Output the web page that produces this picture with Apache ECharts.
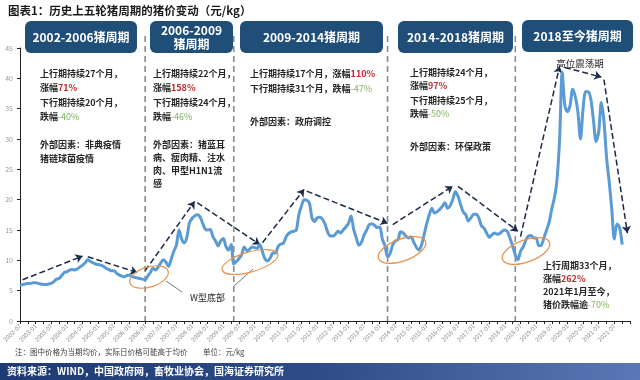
<!DOCTYPE html>
<html><head><meta charset="utf-8">
<script src="https://cdn.jsdelivr.net/npm/echarts@6/dist/echarts.min.js"></script>
<style>html,body{margin:0;padding:0;background:#fff}#c{width:640px;height:380px}</style>
</head><body><div id="c"></div>
<script>
// Monthly categories 2002-07 .. 2022-01
const categories = [];
for (let y = 2002; y <= 2022; y++) {
  for (let m = 1; m <= 12; m++) {
    if ((y === 2002 && m < 7) || (y === 2022 && m > 1)) continue;
    categories.push(y + '-' + String(m).padStart(2, '0'));
  }
}
const price = [
  5.9,6.0,6.1,6.2,6.2,6.3,6.3,6.2,6.1,6.0,6.0,6.1,6.2,6.5,6.9,7.0,7.5,8.0,8.1,8.4,
  8.5,8.4,8.6,8.9,9.2,9.6,10.1,9.8,9.6,9.4,9.3,9.2,9.0,8.7,8.5,8.3,8.3,7.9,7.6,7.4,
  7.3,7.5,7.6,7.3,7.2,7.1,7.0,6.9,6.8,7.4,8.0,8.7,8.4,8.9,9.6,10.1,9.7,9.0,10.2,11.5,
  12.5,15.0,13.5,12.9,13.8,16.2,16.9,17.3,17.5,17.2,16.2,15.2,15.0,15.1,13.9,13.2,12.4,13.2,13.6,12.3,
  11.7,12.6,9.4,9.8,10.3,10.9,12.2,11.6,11.8,12.2,12.1,12.0,12.6,11.4,10.2,9.9,10.4,11.2,11.2,12.3,
  12.7,12.8,13.8,14.4,14.7,14.8,15.0,17.6,19.0,20.0,19.9,19.5,17.0,16.4,17.0,17.1,16.8,16.0,14.7,14.0,
  14.0,14.3,14.8,14.5,15.0,15.5,16.1,17.3,15.1,13.7,12.5,13.0,14.2,15.0,15.9,16.0,15.8,15.4,15.5,13.5,
  12.4,10.6,11.2,12.6,13.2,13.4,14.7,14.5,14.0,13.7,13.9,13.0,12.2,11.7,12.5,14.2,16.0,17.5,18.6,17.8,
  18.0,18.4,18.9,19.5,18.6,19.0,20.0,21.3,20.6,19.2,18.0,17.5,16.5,17.0,17.6,17.6,17.0,15.7,15.3,14.5,
  13.8,14.2,14.5,14.3,14.4,14.8,15.0,14.7,13.6,12.3,10.9,10.1,11.5,12.2,13.3,14.0,14.1,13.7,13.7,12.4,
  12.5,13.7,15.0,16.3,18.5,20.3,23.3,30.0,41.0,35.5,34.5,35.5,38.2,37.0,34.5,30.0,35.0,37.8,37.8,36.5,
  33.0,29.6,31.2,36.0,33.0,27.0,23.0,18.5,13.5,16.0,15.4,12.6
];
const cycleBounds = ['2006-07', '2009-05', '2014-04', '2018-05'];
const trendArrows = [
  [['2002-08', 6.8], ['2004-07', 10.7]],
  [['2004-09', 10.6], ['2006-04', 8.0]],
  [['2006-07', 8.3], ['2008-02', 19.7]],
  [['2008-03', 19.5], ['2010-03', 12.6]],
  [['2010-04', 12.9], ['2011-08', 21.7]],
  [['2011-09', 21.4], ['2014-04', 16.1]],
  [['2014-06', 15.9], ['2016-05', 22.2]],
  [['2016-07', 22.2], ['2018-06', 14.8]],
  [['2018-07', 13.9], ['2019-10', 42.0]],
  [['2019-12', 41.8], ['2021-02', 40.2]],
  [['2021-03', 39.8], ['2021-12', 14.5]]
];
const cycleTitles = ['2002-2006猪周期', '2006-2009\n猪周期', '2009-2014猪周期', '2014-2018猪周期', '2018至今猪周期'];

const FONT = '"Noto Sans CJK SC", "Noto Sans", sans-serif';
const chart = echarts.init(document.getElementById('c'), null, { renderer: 'canvas' });

const rich = {
  r: { fill: '#C0282D', fontSize: 9, fontWeight: 'bold', fontFamily: FONT },
  g: { fill: '#7DB45A', fontSize: 9, fontWeight: 'normal', fontFamily: FONT }
};
function txt(x, y, s, extra) {
  return Object.assign({
    type: 'text', x: x, y: y, silent: true, z: 20,
    style: Object.assign({ text: s, fill: '#262626', fontSize: 9, fontWeight: 'bold', fontFamily: FONT,
      verticalAlign: 'middle', align: 'left', rich: rich }, extra || {})
  });
}
function box(x, y, w, h, s, fs) {
  return [{
    type: 'rect', x: x, y: y, z: 15, silent: true,
    shape: { width: w, height: h, r: 6 },
    style: { fill: '#1F4E79' }
  }, {
    type: 'text', x: x + w / 2, y: y + h / 2, z: 16, silent: true,
    style: { text: s, fill: '#fff', fontSize: fs, fontWeight: 'bold', fontFamily: FONT,
      align: 'center', verticalAlign: 'middle', lineHeight: fs + 2 }
  }];
}
function ell(cx, cy, rx, ry, rot) {
  return { type: 'ellipse', x: cx, y: cy, rotation: rot, z: 12, silent: true,
    shape: { cx: 0, cy: 0, rx: rx, ry: ry },
    style: { fill: 'none', stroke: '#E8914A', lineWidth: 1.2 } };
}

const option = {
  animation: false,
  backgroundColor: '#fff',
  grid: { left: 20, right: 10, top: 48, bottom: 59 },
  xAxis: {
    type: 'category', data: categories, boundaryGap: false,
    axisLine: { lineStyle: { color: '#222', width: 1 } },
    axisTick: { interval: 2, length: 3, lineStyle: { color: '#222' } },
    axisLabel: {
      interval: function (i) { return i % 6 === 0 && i <= 228; },
      rotate: 45, fontSize: 6, color: '#8a8a8a', margin: 4, fontFamily: FONT
    },
    splitLine: { show: false }
  },
  yAxis: {
    type: 'value', min: 0, max: 45, interval: 5,
    axisLine: { show: true, lineStyle: { color: '#222', width: 1 } },
    axisTick: { show: true, length: 3, lineStyle: { color: '#222' } },
    axisLabel: { fontSize: 7, color: '#999', margin: 7, fontFamily: FONT },
    splitLine: { show: false }
  },
  series: [{
    type: 'line', data: price, showSymbol: false, smooth: 0.3,
    lineStyle: { color: '#5B9BD5', width: 3 },
    z: 5,
    markLine: {
      silent: true, symbol: ['none', 'arrow'], symbolSize: 7,
      label: { show: false },
      lineStyle: { color: '#1B2A4A', type: 'dashed', width: 1.5 },
      data: trendArrows.map(function (a) { return [{ coord: a[0] }, { coord: a[1] }]; })
    }
  }]
};
chart.setOption(option);

const g = [];
// cycle boundary dashed lines
cycleBounds.forEach(function (c) {
  const px = chart.convertToPixel({ xAxisIndex: 0 }, c);
  g.push({ type: 'line', z: 4, silent: true, shape: { x1: px, y1: 36, x2: px, y2: 321 },
    style: { stroke: '#8C8C8C', lineWidth: 1.6, lineDash: [6, 4] } });
});
// title
g.push({ type: 'text', x: 8, y: 11, silent: true,
  style: { text: '图表1：历史上五轮猪周期的猪价变动（元/kg）', fill: '#1a1a1a', fontSize: 11.5, fontWeight: 'bold',
    fontFamily: FONT, verticalAlign: 'middle' } });
// cycle boxes
[[25, 21, 112, 32, 12], [150, 21, 83, 32, 12], [240, 21, 143, 32, 12], [398, 21, 115, 32, 12], [522, 20, 111, 32, 12]]
  .forEach(function (b, i) { box(b[0], b[1], b[2], b[3], cycleTitles[i], b[4]).forEach(function (e) { g.push(e); }); });
// cycle texts
g.push(txt(40, 74, '上行期持续27个月，'), txt(40, 88, '涨幅{r|71%}'), txt(40, 103, '下行期持续20个月，'),
  txt(40, 117, '跌幅{g|-40%}'), txt(40, 145, '外部因素：非典疫情'), txt(40, 159, '猪链球菌疫情'));
g.push(txt(153, 74, '上行期持续22个月，'), txt(153, 88, '涨幅{r|158%}'), txt(153, 103, '下行期持续24个月，'),
  txt(153, 117, '跌幅{g|-46%}'), txt(153, 145, '外部因素：猪蓝耳'), txt(153, 158, '病、瘦肉精、注水'),
  txt(153, 171, '肉、甲型H1N1流'), txt(153, 184, '感'));
g.push(txt(250, 74, '上行期持续17个月，涨幅{r|110%}'), txt(250, 89, '下行期持续31个月，跌幅{g|-47%}'),
  txt(250, 122, '外部因素：政府调控'));
g.push(txt(410, 73, '上行期持续24个月，'), txt(410, 86, '涨幅{r|97%}'), txt(410, 101, '下行期持续25个月，'),
  txt(410, 114, '跌幅{g|-50%}'), txt(410, 147, '外部因素：环保政策'));
g.push(txt(580, 63, '高位震荡期', { align: 'center', fontWeight: 'normal', fontSize: 9.5 }));
g.push(txt(543, 266, '上行周期33个月，'), txt(543, 279, '涨幅{r|262%}'), txt(543, 292, '2021年1月至今，'),
  txt(543, 305, '猪价跌幅逾{g|-70%}'));
// W bottom
g.push(txt(190, 298, 'W型底部', { fontWeight: 'normal' }));
g.push({ type: 'line', silent: true, z: 12, shape: { x1: 182, y1: 292, x2: 166, y2: 281 }, style: { stroke: '#555', lineWidth: 0.8 } });
g.push({ type: 'line', silent: true, z: 12, shape: { x1: 234, y1: 286, x2: 253, y2: 269 }, style: { stroke: '#555', lineWidth: 0.8 } });
// ellipses
g.push(ell(149, 277, 20, 10, 0.3), ell(250, 262, 29, 10, 0.28), ell(402, 250, 25, 11, 0.35), ell(526, 251, 25, 11, 0.35));
// footnote
g.push({ type: 'text', x: 15, y: 352, silent: true,
  style: { text: '注：图中价格为当期均价，实际日价格可能高于均价', fill: '#404040', fontSize: 7.5,
    fontFamily: FONT, verticalAlign: 'middle' } });
g.push({ type: 'text', x: 203, y: 352, silent: true,
  style: { text: '单位：元/kg', fill: '#404040', fontSize: 7.5,
    fontFamily: FONT, verticalAlign: 'middle' } });
// footer bar
g.push({ type: 'rect', x: 0, y: 363, silent: true, shape: { width: 640, height: 17 },
  style: { fill: new echarts.graphic.LinearGradient(0, 0, 1, 0, [
    { offset: 0, color: '#1E3A72' }, { offset: 0.5, color: '#2E4C88' }, { offset: 1, color: '#5A78B5' }]) } });
g.push({ type: 'text', x: 7, y: 371.5, silent: true, z: 2,
  style: { text: '资料来源：WIND，中国政府网，畜牧业协会，国海证券研究所', fill: '#fff', fontSize: 10, fontWeight: 'bold',
    fontFamily: FONT, verticalAlign: 'middle' } });

chart.setOption({ graphic: g });
</script>
</body></html>
